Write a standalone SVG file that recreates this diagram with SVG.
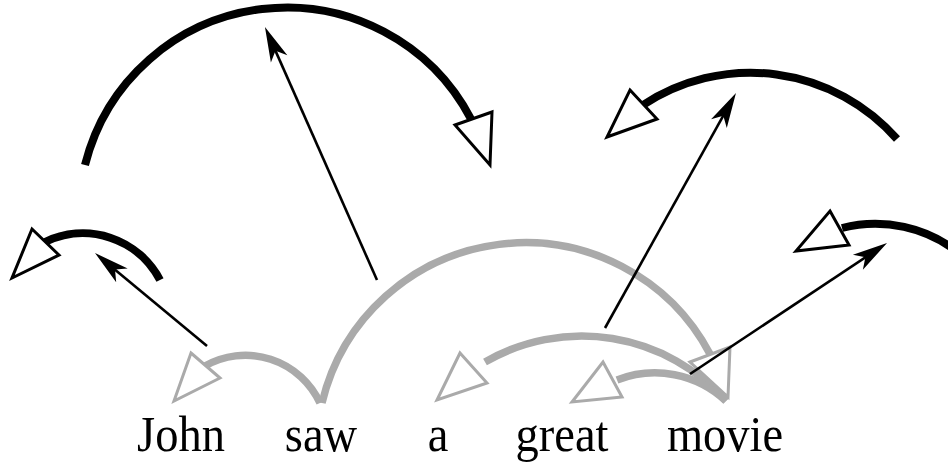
<svg xmlns="http://www.w3.org/2000/svg" width="948" height="463" viewBox="0 0 948 463">
  <style>
    .word { font-family: "Liberation Serif", "Times New Roman", serif; font-size: 50px; fill: #000; text-anchor: middle; }
    .dep { fill: none; stroke: #aaaaaa; stroke-width: 7.5; stroke-linecap: butt; }
    .dep-head { fill: #fff; stroke: #aaaaaa; stroke-width: 3; stroke-linejoin: miter; }
    .rel { fill: none; stroke: #000; stroke-width: 8; stroke-linecap: butt; }
    .rel-head { fill: #fff; stroke: #000; stroke-width: 3; stroke-linejoin: miter; }
    .map { fill: none; stroke: #000; stroke-width: 2.6; }
  </style>
  <defs>
    <marker id="barb" markerUnits="userSpaceOnUse" viewBox="-36 -10 37 20" markerWidth="37" markerHeight="20" refX="-10" refY="0" orient="auto">
      <path d="M0,0 L-35,-9 L-26,0 L-35,9 Z" fill="#000"/>
    </marker>
  </defs>

  <!-- words (slightly condensed serif) -->
  <g id="w-john"><text class="word" transform="translate(181,451) scale(0.93,1)">John</text></g>
  <g id="w-saw"><text class="word" transform="translate(321,451) scale(0.93,1)">saw</text></g>
  <g id="w-a"><text class="word" transform="translate(438,451) scale(0.93,1)">a</text></g>
  <g id="w-great"><text class="word" transform="translate(562,451) scale(0.93,1)">great</text></g>
  <g id="w-movie"><text class="word" transform="translate(725,451) scale(0.93,1)">movie</text></g>

  <g id="connectors">
    <!-- grey dependency arcs above the sentence -->
    <g id="dependencies">
      <path class="dep" d="M320,403 A82,82 0 0 0 205,366"/>
      <polygon class="dep-head" points="191,353 220,378 174,401"/>
      <path class="dep" d="M322,403 A209,209 0 0 1 710,354"/>
      <polygon class="dep-head" points="690,362 730,347 728,397"/>
      <path class="dep" d="M726,401 A193,193 0 0 0 485,362"/>
      <polygon class="dep-head" points="460,353 487,383 437,400"/>
      <path class="dep" d="M726,401 A104,104 0 0 0 617,380"/>
      <polygon class="dep-head" points="603,362 622,397 572,402"/>
    </g>

    <!-- black arcs in the upper layer -->
    <g id="relations">
      <path class="rel" d="M160,280 A87,87 0 0 0 45,242"/>
      <polygon class="rel-head" points="32,229 59,255 12,278"/>
      <path class="rel" d="M85,165 A208,208 0 0 1 471,119"/>
      <polygon class="rel-head" points="455,125 492,112 490,165"/>
      <path class="rel" d="M897,139 A195,195 0 0 0 643,105"/>
      <polygon class="rel-head" points="630,90 657,119 607,137"/>
      <path class="rel" d="M842,228 A134,134 0 0 1 960,254"/>
      <polygon class="rel-head" points="830,211 849,245 796,251"/>
    </g>

    <!-- thin arrows from each dependency to its relation -->
    <g id="mappings">
      <line class="map" x1="207" y1="346" x2="102.7" y2="259.4" marker-end="url(#barb)"/>
      <line class="map" x1="377" y1="280" x2="269" y2="36.1" marker-end="url(#barb)"/>
      <line class="map" x1="605" y1="328" x2="731.1" y2="101.7" marker-end="url(#barb)"/>
      <line class="map" x1="690" y1="374" x2="878.7" y2="248.5" marker-end="url(#barb)"/>
    </g>
  </g>
</svg>
